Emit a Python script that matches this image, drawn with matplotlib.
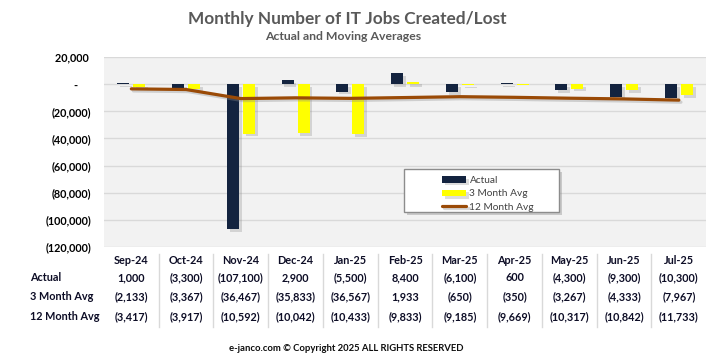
import matplotlib
matplotlib.use('Agg')
from matplotlib import pyplot as plt
from matplotlib import patheffects as pe
from matplotlib.patches import Rectangle
from matplotlib.transforms import blended_transform_factory
import numpy as np

months = ['Sep-24', 'Oct-24', 'Nov-24', 'Dec-24', 'Jan-25', 'Feb-25',
          'Mar-25', 'Apr-25', 'May-25', 'Jun-25', 'Jul-25']
actual = [1000, -3300, -107100, 2900, -5500, 8400, -6100, 600, -4300, -9300, -10300]
avg3 = [-2133, -3367, -36467, -35833, -36567, 1933, -650, -350, -3267, -4333, -7967]
avg12 = [-3417, -3917, -10592, -10042, -10433, -9833, -9185, -9669, -10317, -10842, -11733]
yticks = [20000, 0, -20000, -40000, -60000, -80000, -100000, -120000]

NAVY = '#13233f'
YELLOW = '#ffff00'
BROWN = '#9a4a06'
FONT = 'Lato'


def acct(v):
    if v == 0:
        return '-     '
    if v < 0:
        return '({:,})'.format(-v)
    return '{:,} '.format(v)


plt.rcParams['font.family'] = [FONT, 'DejaVu Sans']

fig = plt.figure(figsize=(7.17, 3.59), dpi=100)
ax = fig.add_axes([0.145, 0.312, 0.840, 0.529])
ax.set_facecolor('#f2f2f2')
for s in ax.spines.values():
    s.set_visible(False)

x = np.arange(len(months))
shadow = [pe.SimplePatchShadow(offset=(2, -2), shadow_rgbFace='#8c8c8c', alpha=0.3), pe.Normal()]
b1 = ax.bar(x - 0.145, actual, 0.22, color=NAVY, zorder=3, label='Actual')
b2 = ax.bar(x + 0.145, avg3, 0.22, color=YELLOW, zorder=3, label='3 Month Avg')
for b in list(b1) + list(b2):
    b.set_path_effects(shadow)
ln, = ax.plot(x, avg12, color=BROWN, lw=2.3, zorder=4, solid_capstyle='round',
              label='12 Month Avg',
              path_effects=[pe.SimpleLineShadow(offset=(1.5, -1.5), shadow_color='#8c8c8c', alpha=0.35), pe.Normal()])

ax.set_xlim(-0.5, len(months) - 0.5)
ax.set_ylim(-120000, 20000)
ax.set_yticks(yticks)
ax.set_yticklabels([acct(v) for v in yticks], fontsize=7.8, fontweight='bold')
ax.tick_params(axis='y', length=0, pad=9)
ax.set_xticks([])
ax.yaxis.grid(True, color='#d9d9d9', lw=1)
ax.set_axisbelow(True)

# legend box
box = Rectangle((0.498, 0.184), 0.258, 0.227, transform=ax.transAxes, facecolor='white',
                edgecolor='#8c8c8c', lw=1, zorder=5,
                path_effects=[pe.SimplePatchShadow(offset=(2, -2), shadow_rgbFace='#7f7f7f', alpha=0.35), pe.Normal()])
ax.add_patch(box)
leg = ax.legend(handles=[b1, b2, ln], loc='upper left', bbox_to_anchor=(0.553, 0.4),
                frameon=False, fontsize=7.3, borderpad=0, labelspacing=0.42,
                handlelength=2.4, handleheight=0.55, handletextpad=0.3, labelcolor='#404040')
leg.set_zorder(6)

# titles
fig.text(0.485, 0.948, 'Monthly Number of IT Jobs Created/Lost', ha='center', va='center',
         fontsize=12.4, fontweight='bold', color='#595959')
fig.text(0.479, 0.899, 'Actual and Moving Averages', ha='center', va='center',
         fontsize=8.8, fontweight='bold', color='#595959')

# data table
tr = blended_transform_factory(ax.transData, fig.transFigure)
rows = [('Actual', actual, 0.226), ('3 Month Avg', avg3, 0.173), ('12 Month Avg', avg12, 0.117)]
for i, m in enumerate(months):
    ax.text(i, 0.273, m, transform=tr, ha='center', va='center', fontsize=7.8,
            fontweight='bold', color='#0d0d26', clip_on=False)
for name, vals, yy in rows:
    fig.text(0.042, yy, name, ha='left', va='center', fontsize=7.8, fontweight='bold', color='#0d0d26')
    for i, v in enumerate(vals):
        ax.text(i, yy, acct(v).strip(), transform=tr, ha='center', va='center', fontsize=7.8,
                fontweight='bold', color='#0d0d26', clip_on=False)
for i in range(len(months) - 1):
    ax.plot([i + 0.5, i + 0.5], [0.09, 0.293], transform=tr, color='#d9d9d9', lw=1, clip_on=False)

fig.text(0.483, 0.028, 'e-janco.com \u00a9 Copyright 2025 ALL RIGHTS RESERVED', ha='center', va='center',
         fontsize=6.8, fontweight='bold', color='#0d0d0d')

fig.savefig('out.png', dpi=100)
